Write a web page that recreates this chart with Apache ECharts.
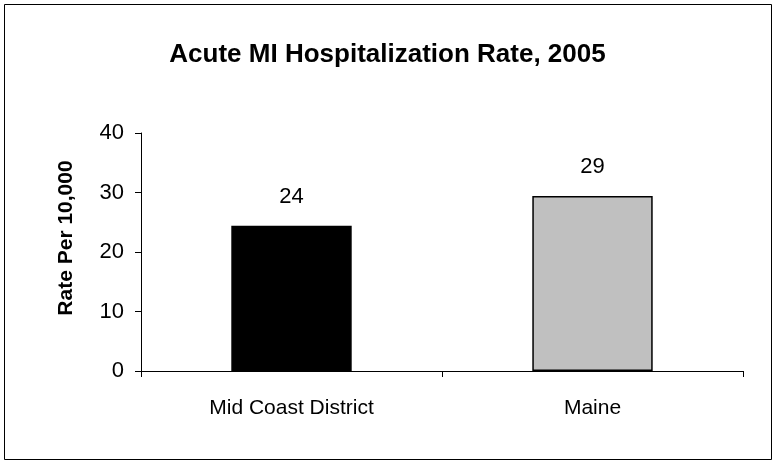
<!DOCTYPE html>
<html>
<head>
<meta charset="utf-8">
<script src="https://cdn.jsdelivr.net/npm/echarts@6/dist/echarts.min.js"></script>
<style>
	html, body {
		margin: 0;
		padding: 0;
		background: #fff;
	}
	#chart {
		width: 775px;
		height: 463px;
	}
</style>
</head>
<body>
<div id="chart"></div>
<script>
	// data
	var categories = ['Mid Coast District', 'Maine'];
	var rates = [24.4, 29.4];
	var barColors = ['#000000', '#c0c0c0'];
	var yTicks = [0, 10, 20, 30, 40];

	var font = '"Liberation Sans", Arial, sans-serif';

	var chart = echarts.init(document.getElementById('chart'));

	var option = {
		backgroundColor: '#fff',
		animation: false,
		title: {
			text: 'Acute MI Hospitalization Rate, 2005',
			left: 'center',
			top: 37,
			textStyle: {
				fontFamily: font,
				fontSize: 26,
				fontWeight: 'bold',
				color: '#000'
			}
		},
		grid: {
			left: 141,
			right: 32,
			top: 133,
			bottom: 92
		},
		xAxis: {
			type: 'category',
			data: categories,
			axisLine: { lineStyle: { color: '#000', width: 1 } },
			axisTick: { show: true, length: 6, lineStyle: { color: '#000' } },
			axisLabel: {
				fontFamily: font,
				fontSize: 21,
				color: '#000',
				margin: 27
			}
		},
		yAxis: {
			type: 'value',
			min: yTicks[0],
			max: yTicks[yTicks.length - 1],
			interval: 10,
			name: 'Rate Per 10,000',
			nameLocation: 'middle',
			nameRotate: 90,
			nameGap: 64,
			nameTextStyle: {
				fontFamily: font,
				fontSize: 21,
				fontWeight: 'bold',
				color: '#000',
				// nudge it up a little, like the original
				padding: [0, 0, 0, 28]
			},
			axisLine: { show: true, lineStyle: { color: '#000', width: 1 } },
			axisTick: { show: true, length: 6, lineStyle: { color: '#000' } },
			splitLine: { show: false },
			axisLabel: {
				fontFamily: font,
				fontSize: 22,
				color: '#000',
				margin: 17
			}
		},
		series: [{
			type: 'bar',
			barWidth: '40%',
			data: rates.map(function (v, i) {
				return {
					value: v,
					itemStyle: {
						color: barColors[i],
						borderColor: '#000',
						borderWidth: 1.5
					}
				};
			}),
			label: {
				show: true,
				position: 'top',
				distance: 18,
				fontFamily: font,
				fontSize: 22,
				color: '#000',
				formatter: function (p) {
					return Math.round(p.value);
				}
			}
		}],
		graphic: [{
			type: 'rect',
			shape: { x: 4.5, y: 4.5, width: 767, height: 455 },
			style: { fill: 'none', stroke: '#000', lineWidth: 1 },
			silent: true
		}]
	};

	chart.setOption(option);
</script>
</body>
</html>
